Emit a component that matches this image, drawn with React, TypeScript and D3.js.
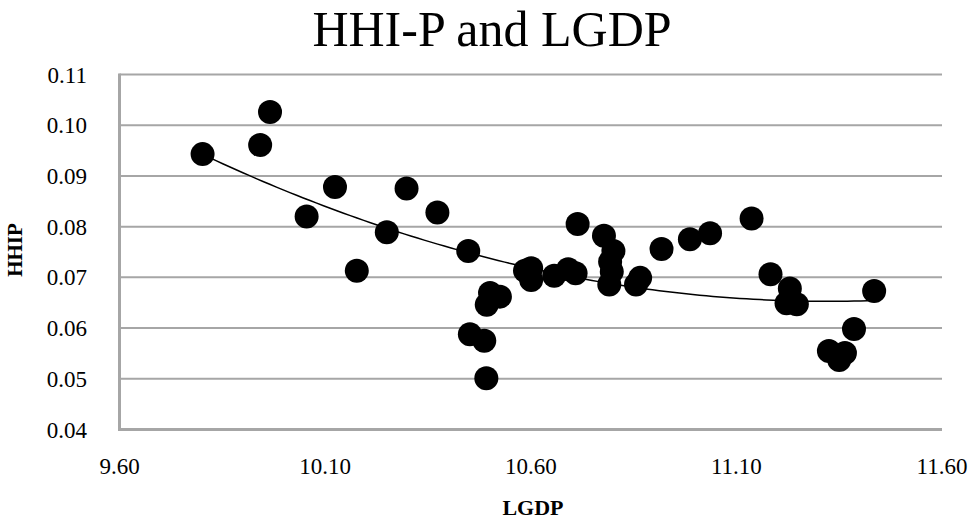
import React from "react";
import * as d3 from "d3";

const lgdp: number[] = [
  9.802, 9.942, 9.966, 10.055, 10.124, 10.177, 10.25, 10.298, 10.373, 10.448,
  10.452, 10.487, 10.492, 10.493, 10.501, 10.525, 10.586, 10.601, 10.601, 10.657,
  10.691, 10.709, 10.714, 10.778, 10.801, 10.793, 10.797, 10.791, 10.856, 10.866,
  10.918, 10.987, 11.036, 11.137, 11.183, 11.23, 11.222, 11.247, 11.325, 11.35,
  11.364, 11.386, 11.435,
];
const hhip: number[] = [
  0.0943, 0.0961, 0.1026, 0.082, 0.0878, 0.0713, 0.0789, 0.0875, 0.0828, 0.0752,
  0.0588, 0.0575, 0.0501, 0.0646, 0.0669, 0.0662, 0.0713, 0.0718, 0.0695, 0.0703,
  0.0716, 0.0708, 0.0805, 0.0782, 0.0752, 0.0731, 0.0711, 0.0686, 0.0686, 0.0699,
  0.0756, 0.0775, 0.0787, 0.0816, 0.0706, 0.0678, 0.0649, 0.0647, 0.0555, 0.0537,
  0.0551, 0.0598, 0.0673,
];
const xTicks: number[] = [9.6, 10.1, 10.6, 11.1, 11.6];
const yTicks: number[] = [0.04, 0.05, 0.06, 0.07, 0.08, 0.09, 0.1, 0.11];

const W = 975;
const H = 522;
const left = 119.5;
const right = 942;
const top = 74.5;
const bottom = 429.5;

function quadFit(xs: number[], ys: number[], xm: number): [number, number, number] {
  const n = xs.length;
  const s = [0, 0, 0, 0, 0];
  const t = [0, 0, 0];
  for (let i = 0; i < n; i++) {
    const u = xs[i] - xm;
    let p = 1;
    for (let k = 0; k < 5; k++) {
      s[k] += p;
      if (k < 3) t[k] += p * ys[i];
      p *= u;
    }
  }
  const A = [
    [s[0], s[1], s[2], t[0]],
    [s[1], s[2], s[3], t[1]],
    [s[2], s[3], s[4], t[2]],
  ];
  for (let c = 0; c < 3; c++) {
    for (let r = c + 1; r < 3; r++) {
      const f = A[r][c] / A[c][c];
      for (let k = c; k < 4; k++) A[r][k] -= f * A[c][k];
    }
  }
  const b = [0, 0, 0];
  for (let r = 2; r >= 0; r--) {
    let v = A[r][3];
    for (let k = r + 1; k < 3; k++) v -= A[r][k] * b[k];
    b[r] = v / A[r][r];
  }
  return [b[0], b[1], b[2]];
}

export default function App() {
  const x = d3.scaleLinear().domain([9.6, 11.6]).range([left, right]);
  const y = d3.scaleLinear().domain([0.04, 0.11]).range([bottom, top]);
  const xm = d3.mean(lgdp) as number;
  const [c0, c1, c2] = quadFit(lgdp, hhip, xm);
  const xmin = d3.min(lgdp) as number;
  const xmax = d3.max(lgdp) as number;
  const trendPts = d3.range(0, 101).map((i) => {
    const xv = xmin + ((xmax - xmin) * i) / 100;
    const u = xv - xm;
    return [xv, c0 + c1 * u + c2 * u * u] as [number, number];
  });
  const line = d3
    .line<[number, number]>()
    .x((d) => x(d[0]))
    .y((d) => y(d[1]));
  const font = "'Liberation Serif', 'Times New Roman', serif";

  return (
    <svg
      width={W}
      height={H}
      style={{ position: "absolute", left: 0, top: 0, background: "#fff" }}
      fontFamily={font}
    >
      <rect x={0} y={0} width={W} height={H} fill="#fff" />
      <text x={492} y={46} textAnchor="middle" fontSize={50} fill="#000">
        HHI-P and LGDP
      </text>
      {yTicks.map((t) => (
        <g key={t}>
          {t > 0.04 && (
            <line x1={left} x2={right} y1={y(t)} y2={y(t)} stroke="#a6a6a6" strokeWidth={2} />
          )}
          <text
            x={87}
            y={y(t)}
            dy="0.35em"
            textAnchor="end"
            fontSize={23}
            fill="#000"
          >
            {t.toFixed(2)}
          </text>
        </g>
      ))}
      <line x1={left} x2={right} y1={bottom} y2={bottom} stroke="#a6a6a6" strokeWidth={3} />
      <line x1={left} x2={left} y1={top - 1} y2={bottom + 1.5} stroke="#a6a6a6" strokeWidth={3} />
      {xTicks.map((t) => (
        <text key={t} x={x(t)} y={474} textAnchor="middle" fontSize={23} fill="#000">
          {t.toFixed(2)}
        </text>
      ))}
      <text x={533} y={515} textAnchor="middle" fontSize={22} fontWeight="bold" fill="#000">
        LGDP
      </text>
      <text
        transform={`translate(22,250) rotate(-90)`}
        textAnchor="middle"
        fontSize={21}
        fontWeight="bold"
        fill="#000"
      >
        HHIP
      </text>
      {lgdp.map((v, i) => (
        <circle key={i} cx={x(v)} cy={y(hhip[i])} r={12} fill="#000" />
      ))}
      <path d={line(trendPts) || ""} fill="none" stroke="#000" strokeWidth={1.5} />
    </svg>
  );
}
